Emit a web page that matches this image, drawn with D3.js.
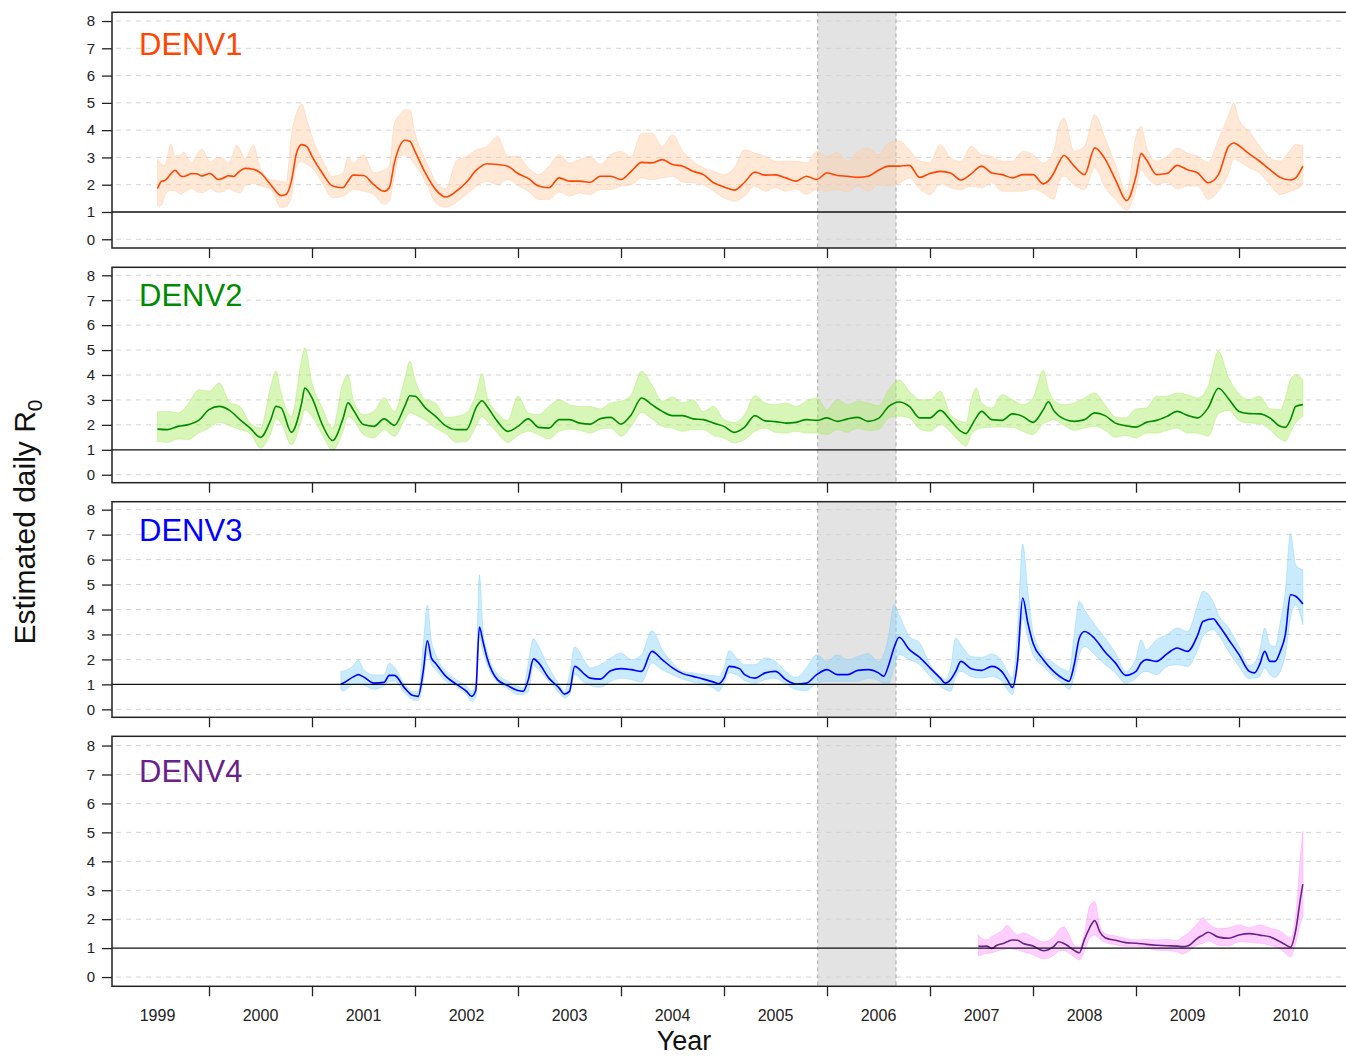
<!DOCTYPE html>
<html>
<head>
<meta charset="utf-8">
<script src="https://cdn.jsdelivr.net/npm/d3@7"></script>
<style>
  body { margin: 0; background: #fff; }
  svg { display: block; font-family: "Liberation Sans", Arial, Helvetica, sans-serif; }
</style>
</head>
<body>
<div id="chart"></div>
<script>
// tick values / labels
var tickYears = [2000, 2001, 2002, 2003, 2004, 2005, 2006, 2007, 2008, 2009, 2010];
var yearLabels = [1999, 2000, 2001, 2002, 2003, 2004, 2005, 2006, 2007, 2008, 2009, 2010];
var yTicks = [0, 1, 2, 3, 4, 5, 6, 7, 8];
var shadePeriod = [2005.91, 2006.67];
var serotypes = ["DENV1", "DENV2", "DENV3", "DENV4"];

// rows: [decimal year, lower, estimate, upper]
var denv1 = [
  [1999.50,1.22,1.86,2.94],[1999.54,1.25,2.13,2.75],[1999.57,1.60,2.15,2.70],[1999.63,1.80,2.40,3.50],
  [1999.67,1.78,2.53,3.05],[1999.73,1.65,2.31,3.10],[1999.75,1.70,2.30,3.20],[1999.83,1.85,2.40,2.80],
  [1999.88,1.75,2.40,3.10],[1999.93,1.70,2.32,3.30],[2000.01,1.85,2.41,2.85],[2000.09,1.72,2.19,3.00],
  [2000.14,1.75,2.25,2.95],[2000.19,1.85,2.33,2.80],[2000.24,1.78,2.30,3.20],[2000.27,1.72,2.40,3.45],
  [2000.30,1.70,2.50,3.30],[2000.35,1.95,2.60,2.95],[2000.43,2.05,2.57,3.45],[2000.50,1.95,2.43,2.60],
  [2000.60,1.82,2.00,2.19],[2000.70,1.16,1.60,2.13],[2000.75,1.20,1.65,2.10],[2000.80,1.58,2.13,3.83],
  [2000.85,2.68,3.16,4.62],[2000.90,2.86,3.47,4.95],[2000.95,2.74,3.40,4.38],[2001.00,2.62,3.04,3.77],
  [2001.10,2.07,2.43,2.92],[2001.20,1.52,1.95,2.31],[2001.30,1.58,1.89,2.43],[2001.35,1.70,2.13,3.00],
  [2001.40,1.82,2.35,2.80],[2001.50,1.76,2.34,3.10],[2001.60,1.64,2.00,2.43],[2001.70,1.28,1.76,2.55],
  [2001.75,1.40,1.89,2.68],[2001.80,2.31,2.80,4.26],[2001.85,3.04,3.40,4.56],[2001.90,3.10,3.63,4.74],
  [2001.95,2.98,3.59,4.74],[2002.00,2.74,3.22,3.89],[2002.10,2.13,2.43,2.92],[2002.20,1.34,1.82,2.13],
  [2002.30,1.17,1.55,1.86],[2002.40,1.36,1.76,2.86],[2002.50,1.64,2.09,3.04],[2002.60,1.95,2.55,3.28],
  [2002.70,2.13,2.77,3.41],[2002.80,2.00,2.74,3.77],[2002.90,2.19,2.68,3.04],[2003.00,1.97,2.41,3.04],
  [2003.10,1.76,2.23,2.62],[2003.20,1.46,1.95,2.37],[2003.30,1.46,1.89,2.68],[2003.40,1.73,2.25,3.10],
  [2003.50,1.58,2.13,2.80],[2003.60,1.70,2.13,2.92],[2003.70,1.64,2.09,3.04],[2003.80,1.82,2.31,2.74],
  [2003.90,1.82,2.31,3.10],[2004.00,1.95,2.19,3.22],[2004.10,2.00,2.49,3.04],[2004.20,2.25,2.82,3.89],
  [2004.30,2.19,2.80,3.89],[2004.40,2.25,2.92,3.41],[2004.50,2.31,2.74,3.83],[2004.60,2.09,2.68,3.22],
  [2004.70,2.07,2.49,2.86],[2004.80,2.00,2.37,2.62],[2004.90,1.76,2.07,2.49],[2005.00,1.52,1.92,2.37],
  [2005.10,1.40,1.80,2.62],[2005.20,1.58,2.09,3.28],[2005.30,1.95,2.46,3.16],[2005.40,1.76,2.35,3.04],
  [2005.50,1.89,2.36,2.86],[2005.60,1.76,2.25,2.86],[2005.70,1.85,2.13,2.86],[2005.80,1.64,2.31,2.80],
  [2005.90,1.82,2.19,3.22],[2006.00,1.76,2.43,3.04],[2006.10,1.82,2.34,3.19],[2006.20,1.73,2.31,2.86],
  [2006.30,1.95,2.27,3.22],[2006.40,1.76,2.31,3.35],[2006.50,2.00,2.53,3.10],[2006.60,1.95,2.68,3.53],
  [2006.70,2.05,2.68,3.60],[2006.80,2.25,2.71,3.28],[2006.90,1.85,2.27,2.86],[2007.00,1.64,2.41,2.82],
  [2007.10,2.04,2.49,3.47],[2007.20,1.89,2.43,2.98],[2007.30,1.82,2.17,2.86],[2007.40,1.95,2.40,3.41],
  [2007.50,1.89,2.68,3.10],[2007.60,2.07,2.43,3.04],[2007.70,1.76,2.37,2.86],[2007.80,1.76,2.25,2.86],
  [2007.90,1.76,2.37,3.22],[2008.00,1.85,2.37,3.10],[2008.10,1.70,2.03,2.80],[2008.20,1.46,2.41,3.22],
  [2008.25,2.07,2.80,4.14],[2008.30,2.31,3.07,4.44],[2008.40,2.00,2.68,3.22],[2008.50,1.82,2.37,3.41],
  [2008.60,2.62,3.35,4.56],[2008.70,1.89,2.94,3.71],[2008.80,1.46,2.19,2.74],[2008.91,1.07,1.42,1.75],
  [2009.00,1.82,2.31,3.77],[2009.05,2.55,3.14,4.14],[2009.10,2.31,2.92,3.41],[2009.20,2.00,2.37,2.86],
  [2009.30,2.09,2.41,3.04],[2009.40,1.85,2.71,3.35],[2009.50,1.95,2.55,3.16],[2009.60,1.95,2.43,3.04],
  [2009.70,1.46,2.07,2.82],[2009.80,1.76,2.37,3.65],[2009.90,2.43,3.41,4.56],[2009.95,2.94,3.53,4.99],
  [2010.00,2.86,3.43,4.38],[2010.10,2.62,3.13,3.95],[2010.20,2.43,2.86,3.41],[2010.30,2.00,2.55,2.98],
  [2010.40,1.64,2.27,2.86],[2010.50,1.76,2.17,3.28],[2010.55,1.82,2.25,3.47],[2010.62,2.00,2.68,3.43]
];

var denv2 = [
  [1999.50,1.34,1.83,2.54],[1999.60,1.30,1.81,2.54],[1999.70,1.43,1.94,2.48],[1999.80,1.41,2.01,2.85],
  [1999.90,1.67,2.18,3.41],[2000.00,1.87,2.61,3.35],[2000.10,2.10,2.74,3.68],[2000.20,1.97,2.58,2.90],
  [2000.30,1.81,2.21,2.74],[2000.40,1.65,1.87,2.07],[2000.50,1.07,1.50,1.87],[2000.60,1.67,2.21,3.55],
  [2000.65,2.24,2.74,4.15],[2000.70,2.07,2.68,3.28],[2000.80,1.20,1.70,2.34],[2000.90,2.21,2.88,4.62],
  [2000.93,2.61,3.48,5.09],[2001.00,2.34,3.08,3.68],[2001.10,1.61,2.01,2.68],[2001.20,0.98,1.37,1.87],
  [2001.30,1.74,2.24,3.68],[2001.35,2.34,2.88,4.02],[2001.40,2.21,2.61,3.01],[2001.50,1.61,2.01,2.41],
  [2001.60,1.47,1.94,2.54],[2001.70,1.81,2.24,3.08],[2001.80,1.54,1.98,2.54],[2001.90,2.21,2.74,3.82],
  [2001.95,2.48,3.17,4.55],[2002.00,2.41,3.15,3.82],[2002.10,2.18,2.68,3.01],[2002.20,1.87,2.34,2.88],
  [2002.30,1.64,1.96,2.30],[2002.40,1.30,1.81,2.34],[2002.50,1.34,1.81,2.48],[2002.60,2.01,2.74,3.35],
  [2002.65,2.34,2.97,4.06],[2002.70,2.14,2.74,3.15],[2002.80,1.67,2.14,2.48],[2002.90,1.30,1.74,2.18],
  [2003.00,1.57,1.94,3.15],[2003.10,1.74,2.24,2.48],[2003.20,1.61,1.90,2.41],[2003.30,1.43,1.87,2.74],
  [2003.40,1.74,2.21,3.01],[2003.50,1.83,2.21,2.81],[2003.60,1.78,2.07,2.74],[2003.70,1.67,2.03,2.74],
  [2003.80,1.83,2.25,2.64],[2003.90,1.87,2.30,2.88],[2004.00,1.54,2.03,2.95],[2004.10,1.94,2.41,3.21],
  [2004.20,2.50,3.08,4.15],[2004.30,2.24,2.81,3.61],[2004.40,1.94,2.54,2.95],[2004.50,1.87,2.37,3.12],
  [2004.60,1.74,2.37,2.88],[2004.70,1.81,2.24,3.01],[2004.80,1.81,2.21,2.54],[2004.90,1.57,2.07,2.74],
  [2005.00,1.47,1.94,2.21],[2005.10,1.27,1.70,2.10],[2005.20,1.41,1.91,2.41],[2005.30,1.74,2.37,3.17],
  [2005.40,1.87,2.16,2.88],[2005.50,1.70,2.13,2.81],[2005.60,1.67,2.07,2.88],[2005.70,1.74,2.10,2.74],
  [2005.80,1.67,2.21,2.95],[2005.90,1.67,2.18,3.08],[2006.00,1.61,2.28,2.61],[2006.10,1.81,2.14,3.01],
  [2006.20,1.70,2.24,2.81],[2006.30,1.87,2.30,2.95],[2006.40,1.77,2.14,2.88],[2006.50,1.81,2.26,2.77],
  [2006.60,2.28,2.74,3.41],[2006.70,2.35,2.92,3.80],[2006.80,2.28,2.74,3.35],[2006.90,1.83,2.28,3.01],
  [2007.00,1.74,2.28,3.01],[2007.10,2.01,2.58,3.35],[2007.20,1.71,2.18,2.41],[2007.30,1.27,1.74,2.14],
  [2007.35,1.14,1.65,2.10],[2007.40,1.61,1.94,3.01],[2007.45,1.80,2.30,3.48],[2007.50,1.87,2.54,2.88],
  [2007.60,1.91,2.21,2.68],[2007.70,1.91,2.18,3.21],[2007.80,1.90,2.44,3.01],[2007.90,1.74,2.34,2.81],
  [2008.00,1.61,2.10,3.08],[2008.10,2.05,2.61,4.19],[2008.15,2.14,2.93,3.41],[2008.20,2.21,2.58,3.01],
  [2008.30,1.98,2.24,2.81],[2008.40,1.78,2.14,2.88],[2008.50,1.87,2.21,3.08],[2008.60,1.94,2.48,3.28],
  [2008.70,1.78,2.37,2.81],[2008.80,1.50,2.07,2.32],[2008.90,1.58,1.97,2.28],[2009.00,1.47,1.91,2.64],
  [2009.10,1.67,2.10,2.68],[2009.20,1.67,2.18,3.15],[2009.30,1.78,2.34,3.15],[2009.40,1.87,2.54,3.28],
  [2009.50,1.67,2.38,3.21],[2009.60,1.67,2.28,3.08],[2009.70,1.54,2.68,3.55],[2009.80,2.45,3.47,4.95],
  [2009.90,2.58,3.04,3.88],[2010.00,2.18,2.54,3.25],[2010.10,2.07,2.45,3.01],[2010.20,2.05,2.44,3.15],
  [2010.30,1.81,2.28,2.65],[2010.40,1.43,1.94,2.61],[2010.45,1.34,1.90,3.08],[2010.50,1.70,2.21,3.82],
  [2010.55,2.07,2.74,4.02],[2010.62,2.34,2.81,3.79]
];

var denv3 = [
  [2001.28,0.79,1.01,1.52],[2001.30,0.74,1.04,1.53],[2001.40,0.99,1.30,1.75],[2001.45,1.00,1.39,1.97],
  [2001.50,0.97,1.30,1.60],[2001.60,0.80,1.05,1.38],[2001.70,0.95,1.08,1.38],[2001.75,1.10,1.36,1.85],
  [2001.80,1.13,1.36,1.70],[2001.90,0.65,0.85,1.00],[2001.98,0.38,0.55,0.70],[2002.03,0.35,0.52,0.70],
  [2002.08,1.12,1.52,2.59],[2002.12,2.26,2.75,4.17],[2002.16,1.79,2.05,2.72],[2002.20,1.60,1.85,2.20],
  [2002.30,1.12,1.32,1.52],[2002.40,0.92,1.01,1.19],[2002.50,0.59,0.72,0.92],[2002.55,0.32,0.52,0.72],
  [2002.59,0.45,0.75,1.00],[2002.625,2.90,3.30,5.39],[2002.66,2.32,2.72,3.20],[2002.70,1.79,2.06,2.32],
  [2002.80,1.09,1.19,1.43],[2002.90,0.83,0.95,1.12],[2003.00,0.59,0.75,0.92],[2003.05,0.59,0.72,0.85],
  [2003.10,0.72,1.19,1.86],[2003.15,1.76,2.02,2.83],[2003.20,1.59,1.86,2.52],[2003.30,1.12,1.25,1.66],
  [2003.40,0.65,0.85,1.01],[2003.45,0.45,0.61,0.72],[2003.50,0.59,0.72,1.39],[2003.55,1.39,1.72,2.50],
  [2003.65,1.05,1.39,1.92],[2003.70,0.96,1.25,1.66],[2003.80,0.88,1.21,1.79],[2003.90,1.12,1.55,2.06],
  [2004.00,1.25,1.63,2.26],[2004.10,1.19,1.59,1.99],[2004.20,1.09,1.52,2.19],[2004.30,1.86,2.32,3.16],
  [2004.40,1.59,1.99,2.39],[2004.50,1.39,1.66,1.86],[2004.60,1.21,1.43,1.52],[2004.70,1.09,1.32,1.46],
  [2004.80,1.01,1.21,1.39],[2004.90,0.85,1.09,1.35],[2004.95,0.72,1.03,1.32],[2005.00,1.05,1.25,1.66],
  [2005.05,1.46,1.72,2.35],[2005.15,1.32,1.63,1.92],[2005.20,1.15,1.39,1.79],[2005.30,1.05,1.25,1.79],
  [2005.40,1.19,1.46,2.06],[2005.50,1.23,1.52,1.92],[2005.60,1.01,1.19,1.52],[2005.70,0.79,1.01,1.28],
  [2005.80,0.75,1.05,1.66],[2005.90,1.05,1.39,2.19],[2006.00,1.12,1.59,1.92],[2006.10,1.12,1.39,2.19],
  [2006.20,1.12,1.39,1.99],[2006.30,1.12,1.56,2.12],[2006.40,1.25,1.59,2.23],[2006.50,1.15,1.46,1.92],
  [2006.55,1.05,1.32,2.19],[2006.60,1.05,1.79,2.99],[2006.65,1.66,2.46,4.19],[2006.70,2.20,2.89,3.79],
  [2006.80,2.00,2.39,2.92],[2006.90,1.79,2.08,2.66],[2007.00,1.32,1.66,1.79],[2007.10,0.92,1.25,1.32],
  [2007.15,0.79,1.05,1.19],[2007.20,0.72,1.19,1.66],[2007.25,1.32,1.52,2.86],[2007.30,1.52,1.92,2.59],
  [2007.40,1.32,1.63,2.12],[2007.50,1.25,1.56,2.08],[2007.60,1.32,1.72,2.22],[2007.70,1.12,1.50,1.92],
  [2007.75,0.79,1.19,1.52],[2007.80,0.59,0.88,1.25],[2007.85,1.66,1.92,3.12],[2007.90,3.66,4.46,6.62],
  [2007.95,2.86,3.46,4.73],[2008.00,2.19,2.66,3.12],[2008.10,1.72,1.99,2.19],[2008.20,1.32,1.52,1.86],
  [2008.30,0.99,1.21,1.59],[2008.35,0.79,1.12,1.52],[2008.40,1.32,1.79,2.99],[2008.45,2.19,2.86,4.33],
  [2008.50,2.52,3.12,3.99],[2008.60,2.19,2.83,3.39],[2008.70,1.79,2.30,2.86],[2008.80,1.46,1.86,2.26],
  [2008.90,1.05,1.36,1.52],[2009.00,1.25,1.52,2.06],[2009.05,1.46,1.86,2.79],[2009.10,1.52,1.99,2.39],
  [2009.20,1.39,1.92,2.79],[2009.30,1.72,2.22,2.99],[2009.40,1.79,2.46,3.26],[2009.50,1.72,2.32,3.12],
  [2009.60,2.39,2.99,4.19],[2009.65,2.92,3.52,4.73],[2009.75,3.19,3.63,4.30],[2009.80,2.99,3.39,3.79],
  [2009.90,2.32,2.79,3.26],[2010.00,1.72,2.19,2.52],[2010.10,1.23,1.52,1.76],[2010.15,1.25,1.46,1.86],
  [2010.20,1.32,1.79,2.32],[2010.25,1.66,2.32,3.26],[2010.30,1.39,1.92,2.59],[2010.35,1.28,1.92,2.52],
  [2010.40,1.52,2.32,3.46],[2010.45,2.19,2.99,4.73],[2010.50,3.66,4.59,7.06],[2010.55,4.19,4.53,5.79],
  [2010.62,3.39,4.22,5.59]
];

var denv4 = [
  [2007.47,0.73,1.07,1.45],[2007.50,0.76,1.06,1.33],[2007.55,0.82,1.07,1.28],[2007.60,0.84,0.99,1.40],
  [2007.65,0.90,1.10,1.50],[2007.70,0.94,1.15,1.60],[2007.75,0.98,1.22,1.78],[2007.80,0.97,1.28,1.60],
  [2007.85,0.94,1.27,1.45],[2007.90,0.88,1.17,1.52],[2008.00,0.78,1.07,1.38],[2008.10,0.63,0.91,1.21],
  [2008.20,0.75,1.05,1.38],[2008.25,0.90,1.22,1.63],[2008.30,0.92,1.16,1.73],[2008.35,0.83,1.05,1.45],
  [2008.40,0.70,0.92,1.10],[2008.45,0.59,0.84,1.04],[2008.50,0.90,1.30,1.50],[2008.55,1.35,1.70,2.45],
  [2008.60,1.45,1.95,2.60],[2008.65,1.30,1.55,1.75],[2008.70,1.20,1.36,1.50],[2008.80,1.12,1.27,1.42],
  [2008.90,1.06,1.19,1.33],[2009.00,1.06,1.17,1.28],[2009.10,1.00,1.13,1.30],[2009.20,0.93,1.10,1.28],
  [2009.30,0.92,1.08,1.30],[2009.40,0.87,1.07,1.26],[2009.45,0.80,1.05,1.38],[2009.50,0.87,1.07,1.50],
  [2009.60,1.12,1.35,1.86],[2009.65,1.16,1.45,2.05],[2009.70,1.25,1.55,1.85],[2009.80,1.10,1.38,1.68],
  [2009.90,1.08,1.34,1.70],[2010.00,1.22,1.45,1.80],[2010.10,1.20,1.50,1.70],[2010.20,1.17,1.45,1.80],
  [2010.30,1.10,1.39,1.69],[2010.40,0.97,1.22,1.58],[2010.45,0.83,1.12,1.45],[2010.50,0.70,1.03,1.35],
  [2010.55,1.17,1.60,2.10],[2010.60,1.90,2.80,4.30],[2010.62,2.10,3.21,5.03]
];

var seriesData = [denv1, denv2, denv3, denv4];
var lineColors = ["#ff4500", "#008b00", "#0000ff", "#68228b"];
var bandColors = ["rgba(255,205,165,0.45)", "rgba(170,235,100,0.45)", "rgba(135,210,250,0.45)", "rgba(255,150,255,0.45)"];

var w = 1346, h = 1057;
var left = 112, right = 1362;
var panelBox = [[12.3, 248], [267.3, 482.7], [501.7, 717.3], [736.3, 986.3]];

var svg = d3.select("#chart").append("svg")
  .attr("width", w)
  .attr("height", h);

var x = d3.scaleLinear().domain([2000, 2010]).range([209, 1239]);

serotypes.forEach(function(name, i) {
  var top = panelBox[i][0], bottom = panelBox[i][1];
  var y = d3.scaleLinear().domain([-0.32, 8.32]).range([bottom, top]);
  var data = seriesData[i];

  svg.append("clipPath").attr("id", "clip" + i)
    .append("rect")
    .attr("x", left).attr("y", top)
    .attr("width", right - left).attr("height", bottom - top);

  var g = svg.append("g").attr("clip-path", "url(#clip" + i + ")");

  // shaded period
  g.append("rect")
    .attr("x", x(shadePeriod[0]))
    .attr("y", top)
    .attr("width", x(shadePeriod[1]) - x(shadePeriod[0]))
    .attr("height", bottom - top)
    .attr("fill", "#e3e3e3");

  // dashed grid
  g.selectAll(".grid")
    .data(yTicks.filter(function(d) { return d !== 1; }))
    .enter().append("line")
    .attr("x1", left + 4).attr("x2", right)
    .attr("y1", function(d) { return y(d); })
    .attr("y2", function(d) { return y(d); })
    .attr("stroke", "#d4d4d4")
    .attr("stroke-width", 1)
    .attr("stroke-dasharray", "5,5");

  g.selectAll(".edge")
    .data(shadePeriod)
    .enter().append("line")
    .attr("x1", function(d) { return x(d); })
    .attr("x2", function(d) { return x(d); })
    .attr("y1", top).attr("y2", bottom)
    .attr("stroke", "#a8a8a8")
    .attr("stroke-width", 1)
    .attr("stroke-dasharray", "4,3");

  var area = d3.area()
    .curve(d3.curveMonotoneX)
    .x(function(d) { return x(d[0]); })
    .y0(function(d) { return y(d[1]); })
    .y1(function(d) { return y(d[3]); });

  var line = d3.line()
    .curve(d3.curveMonotoneX)
    .x(function(d) { return x(d[0]); })
    .y(function(d) { return y(d[2]); });

  g.append("path")
    .datum(data)
    .attr("fill", bandColors[i])
    .attr("stroke", bandColors[i])
    .attr("stroke-width", 1)
    .attr("d", area);

  g.append("path")
    .datum(data)
    .attr("fill", "none")
    .attr("stroke", lineColors[i])
    .attr("stroke-width", 1.6)
    .attr("stroke-linejoin", "round")
    .attr("d", line);

  // reference line at R0 = 1
  g.append("line")
    .attr("x1", left).attr("x2", right)
    .attr("y1", y(1)).attr("y2", y(1))
    .attr("stroke", "#111")
    .attr("stroke-width", 1.3);

  // frame
  svg.append("rect")
    .attr("x", left).attr("y", top)
    .attr("width", right - left).attr("height", bottom - top)
    .attr("fill", "none")
    .attr("stroke", "#222")
    .attr("stroke-width", 1.5);

  var yAxis = d3.axisLeft(y).tickValues(yTicks).tickSize(10).tickPadding(7);
  var ya = svg.append("g")
    .attr("transform", "translate(" + left + ",0)")
    .call(yAxis);
  ya.select(".domain").remove();
  ya.selectAll("line").attr("stroke", "#222").attr("stroke-width", 1.3);
  ya.selectAll("text").attr("font-size", 15).attr("fill", "#222")
    .attr("font-family", "'Liberation Sans', Arial, sans-serif");

  var xAxis = d3.axisBottom(x).tickValues(tickYears).tickSize(10).tickFormat("");
  var xa = svg.append("g")
    .attr("transform", "translate(0," + bottom + ")")
    .call(xAxis);
  xa.select(".domain").remove();
  xa.selectAll("line").attr("stroke", "#222").attr("stroke-width", 1.3);

  svg.append("text")
    .attr("x", left + 27)
    .attr("y", y(6.75))
    .attr("font-size", 31)
    .attr("fill", lineColors[i])
    .text(name);
});

// year labels under the last panel
svg.selectAll(".yearLabel")
  .data(yearLabels)
  .enter().append("text")
  .attr("x", function(d) { return x(d + 0.5); })
  .attr("y", 1021)
  .attr("text-anchor", "middle")
  .attr("font-size", 16)
  .attr("fill", "#222")
  .text(function(d) { return d; });

svg.append("text")
  .attr("x", 684)
  .attr("y", 1050)
  .attr("text-anchor", "middle")
  .attr("font-size", 27)
  .attr("fill", "#111")
  .text("Year");

var yTitle = svg.append("text")
  .attr("transform", "translate(35,522) rotate(-90)")
  .attr("text-anchor", "middle")
  .attr("font-size", 30)
  .attr("fill", "#111");
yTitle.append("tspan").text("Estimated daily R");
yTitle.append("tspan").attr("font-size", 21).attr("dy", 7).text("0");
</script>
</body>
</html>
